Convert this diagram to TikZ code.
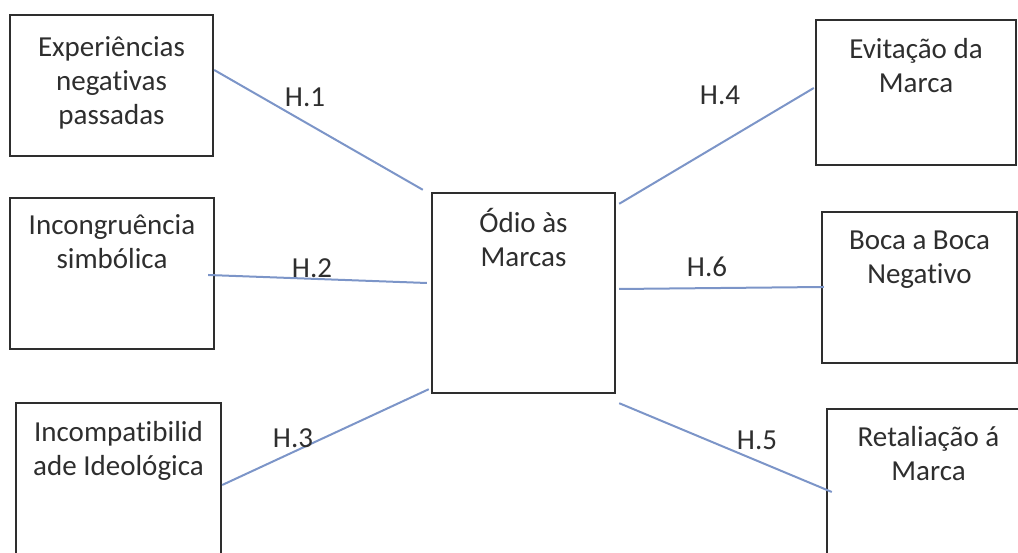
\documentclass[tikz,border=0pt]{standalone}
\usepackage{fontspec}
\setmainfont{Carlito}[Ligatures=NoCommon]
\usetikzlibrary{positioning,calc}
\definecolor{ink}{HTML}{2E2E2E}
\definecolor{edge}{HTML}{7C95C8}

\begin{document}
\begin{tikzpicture}[
    x=1pt, y=1pt,
    box/.style={draw=ink, line width=2.4pt, inner sep=0pt},
    txt/.style={font=\fontsize{29}{34}\selectfont, text=ink, align=center, inner sep=0pt},
    hlab/.style={font=\fontsize{29}{34}\selectfont, text=ink, inner sep=0pt},
    link/.style={draw=edge, line width=2pt}
]
    \useasboundingbox (0,0) rectangle (1018,553);
    \clip (0,0) rectangle (1018,553);

    % antecedents
    \node[box, minimum width=203, minimum height=141] (exp) at (111.5,467.5) {};
    \node[txt, below=23 of exp.north] (expt) {Experiências\\negativas\\passadas};
    \node[box, minimum width=204, minimum height=151] (inc) at (112,279.5) {};
    \node[txt, below=18 of inc.north] (inct) {Incongruência\\simbólica};
    \node[box, minimum width=205, minimum height=170] (ideo) at (118.5,65) {};
    \node[txt, below=19 of ideo.north] (ideot) {Incompatibilid\\ade Ideológica};

    % centre
    \node[box, minimum width=183, minimum height=200] (odio) at (523.5,260) {};
    \node[txt, below=16 of odio.north] (odiot) {Ódio às\\Marcas};

    % consequences
    \node[box, minimum width=200, minimum height=145] (evit) at (916,460.5) {};
    \node[txt, below=19 of evit.north] (evitt) {Evitação da\\Marca};
    \node[box, minimum width=195, minimum height=151] (boca) at (919.5,265.5) {};
    \node[txt, below=20 of boca.north] (bocat) {Boca a Boca\\Negativo};
    \node[box, minimum width=203, minimum height=164] (retal) at (928.5,62) {};
    \node[txt, below=18 of retal.north] (retalt) {Retaliação á\\Marca};

    \draw[link] ($(exp.east)+(0,15.5)$) -- ($(odio.north west)+(-8,2)$);
    \draw[link] ($(inc.east)+(-7,-1.5)$) -- ($(odio.west)+(-4,10)$);
    \draw[link] ($(ideo.east)+(0,3)$) -- ($(odio.south west)+(-2,5)$);
    \draw[link] ($(odio.north east)+(3,-12)$) -- ($(evit.west)+(-1,4.5)$);
    \draw[link] ($(odio.east)+(3,4)$) -- ($(boca.west)+(3,0.5)$);
    \draw[link] ($(odio.south east)+(3,-9)$) -- ($(retal.west)+(6,-1)$);

    \node[hlab] (h1) at (305,456) {H.1};
    \node[hlab] (h2) at (312,285) {H.2};
    \node[hlab] (h3) at (293,115) {H.3};
    \node[hlab] (h4) at (720,458) {H.4};
    \node[hlab] (h6) at (707,286) {H.6};
    \node[hlab] (h5) at (757,113) {H.5};
\end{tikzpicture}
\end{document}
